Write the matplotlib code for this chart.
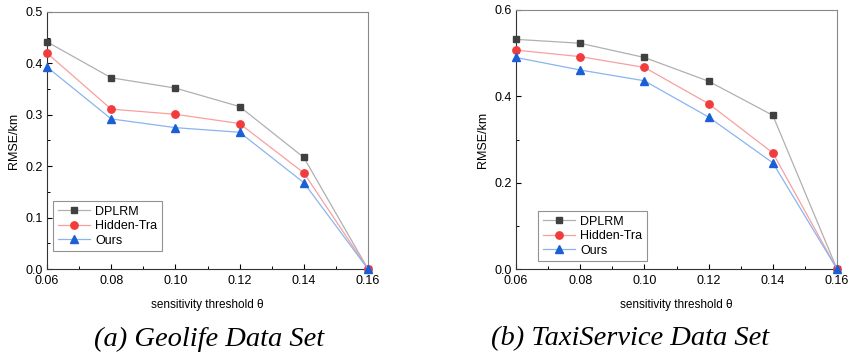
import numpy as np
import matplotlib.pyplot as plt

thresholds = [0.06, 0.08, 0.10, 0.12, 0.14, 0.16]

geo_dplrm = [0.442, 0.372, 0.352, 0.316, 0.217, 0.0]
geo_hidden = [0.420, 0.311, 0.301, 0.283, 0.187, 0.0]
geo_ours = [0.393, 0.292, 0.275, 0.266, 0.168, 0.0]

taxi_dplrm = [0.532, 0.523, 0.490, 0.435, 0.356, 0.0]
taxi_hidden = [0.507, 0.492, 0.467, 0.383, 0.269, 0.0]
taxi_ours = [0.490, 0.461, 0.436, 0.352, 0.246, 0.0]

xticks = [0.06, 0.08, 0.10, 0.12, 0.14, 0.16]


def draw_panel(ax, dplrm, hidden, ours, ymax, ystep, legend_anchor):
    ax.plot(thresholds, dplrm, color='#b0b0b0', lw=0.9, marker='s', ms=4.8,
            mfc='#404040', mec='#404040', label='DPLRM', clip_on=False, zorder=3)
    ax.plot(thresholds, hidden, color='#f7a0a0', lw=0.9, marker='o', ms=5.3,
            mfc='#f23c3c', mec='#f23c3c', label='Hidden-Tra', clip_on=False, zorder=3)
    ax.plot(thresholds, ours, color='#8ab4f0', lw=0.9, marker='^', ms=5.3,
            mfc='#1a5fd6', mec='#1a5fd6', label='Ours', clip_on=False, zorder=3)
    ax.set_xlim(0.06, 0.16)
    ax.set_ylim(0, ymax)
    ax.set_xticks(xticks)
    ax.set_xticklabels(['%.2f' % t for t in xticks])
    ax.set_yticks(np.arange(0, ymax + 1e-9, ystep))
    ax.set_yticklabels(['%.1f' % v for v in np.arange(0, ymax + 1e-9, ystep)])
    ax.set_xticks(np.arange(0.07, 0.16, 0.02), minor=True)
    ax.set_yticks(np.arange(ystep / 2, ymax, ystep), minor=True)
    ax.tick_params(which='major', direction='in', length=3.5, width=0.8, labelsize=9)
    ax.tick_params(axis='x', which='major', pad=4)
    ax.tick_params(axis='y', which='major', pad=3)
    ax.tick_params(which='minor', direction='in', length=2, width=0.7)
    for s in ax.spines.values():
        s.set_linewidth(0.8)
        s.set_color('#333333')
    ax.spines['top'].set_color('#888888')
    ax.spines['right'].set_color('#888888')
    ax.set_xlabel('sensitivity threshold θ', fontsize=8.5, labelpad=9)
    ax.set_ylabel('RMSE/km', fontsize=9, labelpad=4)
    leg = ax.legend(loc='lower left', bbox_to_anchor=legend_anchor, fontsize=9,
                    frameon=True, fancybox=False, borderpad=0.35, labelspacing=0.2,
                    handlelength=2.6, handletextpad=0.4, borderaxespad=0)
    leg.get_frame().set_edgecolor('#777777')
    leg.get_frame().set_linewidth(0.8)


def main():
    plt.rcParams['font.family'] = ['Liberation Sans', 'DejaVu Sans']
    fig = plt.figure(figsize=(8.48, 3.62), dpi=100)

    ax1 = fig.add_axes([47 / 848, 1 - 269 / 362, 321 / 848, 257 / 362])
    ax2 = fig.add_axes([516 / 848, 1 - 269 / 362, 321 / 848, 259 / 362])

    draw_panel(ax1, geo_dplrm, geo_hidden, geo_ours, 0.5, 0.1, (0.02, 0.07))
    draw_panel(ax2, taxi_dplrm, taxi_hidden, taxi_ours, 0.6, 0.2, (0.07, 0.03))

    fig.text(209 / 848, 1 - 339 / 362, '(a) Geolife Data Set', ha='center', va='center',
             fontsize=20.5, style='italic', family='Liberation Serif')
    fig.text(630 / 848, 1 - 339 / 362, '(b) TaxiService Data Set', ha='center', va='center',
             fontsize=20.5, style='italic', family='Liberation Serif')

    fig.savefig('out.png', dpi=100)


if __name__ == '__main__':
    main()
